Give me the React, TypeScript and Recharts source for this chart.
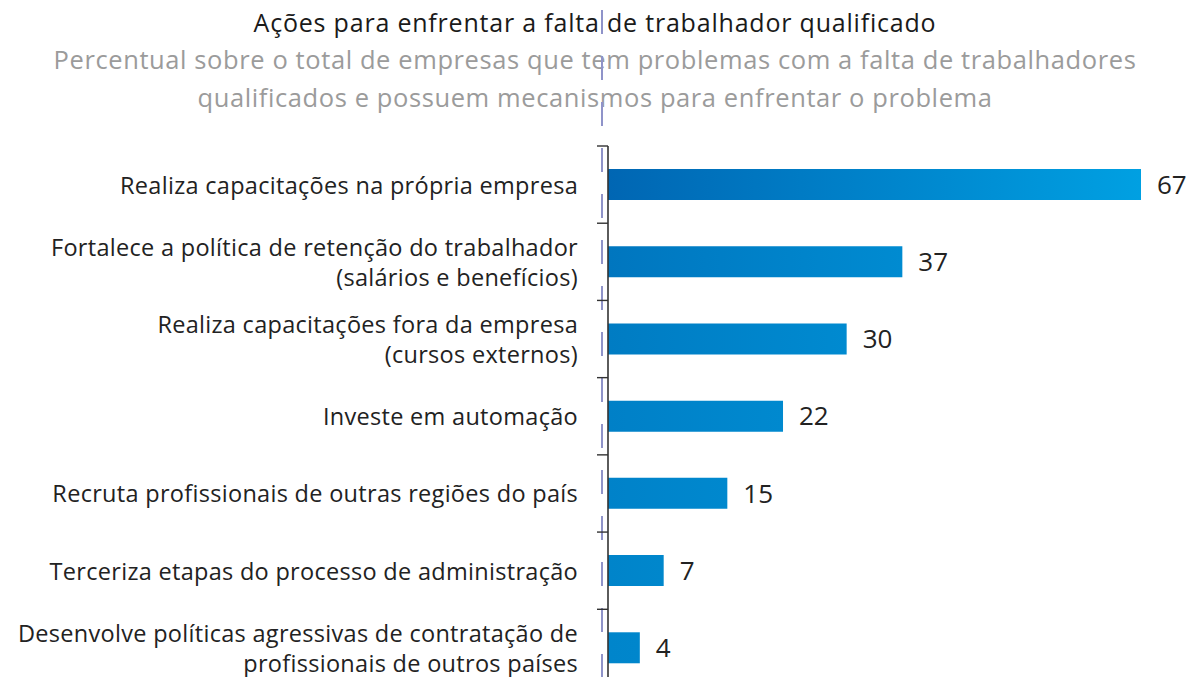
import React from 'react';
import { BarChart, Bar, XAxis, YAxis, LabelList, Cell } from 'recharts';

const categories = [
  'Realiza capacitações na própria empresa',
  'Fortalece a política de retenção do trabalhador\n(salários e benefícios)',
  'Realiza capacitações fora da empresa\n(cursos externos)',
  'Investe em automação',
  'Recruta profissionais de outras regiões do país',
  'Terceriza etapas do processo de administração',
  'Desenvolve políticas agressivas de contratação de\nprofissionais de outros países',
];
const values = [67, 37, 30, 22, 15, 7, 4];

const title = 'Ações para enfrentar a falta de trabalhador qualificado';
const subtitle = [
  'Percentual sobre o total de empresas que tem problemas com a falta de trabalhadores',
  'qualificados e possuem mecanismos para enfrentar o problema',
];

// left / right colour of each bar's gradient
const barGradients = [
  ['#0066b3', '#00a0e2'],
  ['#0076bf', '#008bd1'],
  ['#007cc3', '#008ad0'],
  ['#0080c7', '#0089cf'],
  ['#0082c9', '#0088ce'],
  ['#0084ca', '#0087cc'],
  ['#0085cb', '#0086cc'],
];

const data = categories.map((name, i) => ({ name, value: values[i] }));

const W = 1190;
const H = 720;
const TOP = 146;
const BOTTOM = 33.5;
const AXIS_W = 608;
const BAND = (H - TOP - BOTTOM) / categories.length;
const FONT = '"Open Sans", sans-serif';

const CategoryTick = (props: any) => {
  const { x, y, payload } = props;
  const lines = String(payload.value).split('\n');
  const lh = 30;
  const y0 = y - ((lines.length - 1) * lh) / 2;
  return (
    <g>
      <line x1={x - 11} x2={x} y1={y - BAND / 2} y2={y - BAND / 2} stroke="#333" strokeWidth={1.4} />
      <text x={x - 30} y={y0} textAnchor="end" dominantBaseline="central" fontSize={23.5} letterSpacing={0.3} fill="#222" fontFamily={FONT}>
        {lines.map((l, i) => (
          <tspan key={i} x={x - 30} y={y0 + i * lh}>{l}</tspan>
        ))}
      </text>
    </g>
  );
};

export default function App() {
  return (
    <div style={{ position: 'absolute', left: 0, top: 0, width: W, height: 677, overflow: 'hidden', background: '#fff', fontFamily: FONT }}>
      <div style={{ position: 'absolute', left: 0, top: 5, width: W, textAlign: 'center', fontSize: 25, letterSpacing: 0.8, color: '#1a1a1a', lineHeight: '34px' }}>
        {title}
      </div>
      <div style={{ position: 'absolute', left: 0, top: 40, width: W, textAlign: 'center', fontSize: 25.5, letterSpacing: 0.6, color: '#9b9b9b', lineHeight: '38px' }}>
        {subtitle.map((s, i) => <div key={i}>{s}</div>)}
      </div>
      <svg style={{ position: 'absolute', left: 0, top: 0 }} width={W} height={677}>
        <line x1={602} x2={602} y1={0} y2={677} stroke="#8f93c9" strokeWidth={2} strokeDasharray="24 22" strokeDashoffset={-10} />
      </svg>
      <div style={{ position: 'absolute', left: 0, top: 0 }}>
        <BarChart
          width={W}
          height={H}
          data={data}
          layout="vertical"
          margin={{ top: TOP, right: 49, bottom: BOTTOM, left: 0 }}
          barCategoryGap={0}
        >
          <defs>
            {barGradients.map((g, i) => (
              <linearGradient key={i} id={`bg${i}`} x1="0" y1="0" x2="1" y2="0">
                <stop offset="0%" stopColor={g[0]} />
                <stop offset="100%" stopColor={g[1]} />
              </linearGradient>
            ))}
          </defs>
          <XAxis type="number" domain={[0, 67]} hide />
          <YAxis
            type="category"
            dataKey="name"
            width={AXIS_W}
            tickLine={false}
            tickSize={0}
            tickMargin={0}
            axisLine={{ stroke: '#333', strokeWidth: 1.6 }}
            tick={<CategoryTick />}
            interval={0}
          />
          <Bar dataKey="value" barSize={31} isAnimationActive={false}>
            {data.map((_, i) => (
              <Cell key={i} fill={`url(#bg${i})`} />
            ))}
            <LabelList dataKey="value" position="right" offset={16} fontSize={26} fill="#222" fontFamily={FONT} />
          </Bar>
        </BarChart>
      </div>
    </div>
  );
}
